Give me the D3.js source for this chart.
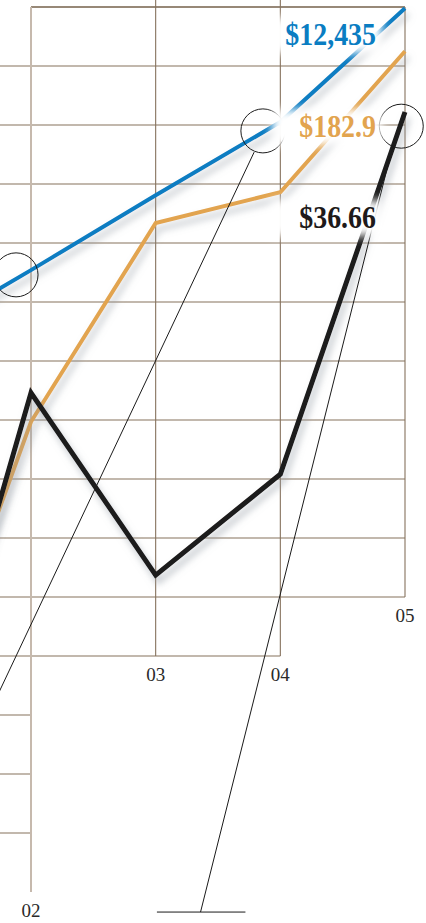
<!DOCTYPE html>
<html>
<head>
<meta charset="utf-8">
<script src="https://cdn.jsdelivr.net/npm/d3@7"></script>
<style>
  body { margin: 0; background: #fff; }
  svg { display: block; }
</style>
</head>
<body>
<svg id="chart" width="426" height="923"></svg>
<script>
// years on the x axis (01 falls off the left edge of the crop)
const years = [1, 2, 3, 4, 5];
const yearLabels = ["01", "02", "03", "04", "05"];

// indexed values, one per year
const blueValues = [9.3, 10.54, 11.81, 13.05, 14.98];
const orangeValues = [2.15, 7.97, 11.34, 11.86, 14.25];
const blackValues = [1.14, 8.46, 5.37, 7.08, 13.22];

// end-of-line labels
const seriesLabels = ["$12,435", "$182.9", "$36.66"];

// grid: lowest gridline each year column reaches (staircase floor)
const gridValues = d3.range(1, 16);
const floorByYear = [null, 0, 4, 4, 5];

// callout circles and leader lines, in data units
const callouts = [
  {year: 1.88, value: 10.46},
  {year: 3.86, value: 12.9},
  {year: 4.97, value: 12.98}
];
const leaders = [
  [{year: 3.79, value: 12.54}, {year: 1.27, value: 1.27}],
  [{year: 4.9, value: 12.63}, {year: 3.36, value: -0.34}],
  [{year: 3.01, value: -0.34}, {year: 3.72, value: -0.34}]
];

let svg = d3.select("#chart");

let x = d3.scaleLinear().domain([2, 5]).range([31, 405]);
let y = d3.scaleLinear().domain([0, 15]).range([892, 7]);

let defs = svg.append("defs");
defs.append("filter")
    .attr("id", "shadow")
    .attr("x", "-20%").attr("y", "-20%")
    .attr("width", "140%").attr("height", "140%")
  .append("feDropShadow")
    .attr("dx", 3).attr("dy", 6)
    .attr("stdDeviation", 3.5)
    .attr("flood-color", "#8f96a0")
    .attr("flood-opacity", 0.55);
defs.append("filter")
    .attr("id", "glow")
    .attr("x", "-50%").attr("y", "-50%")
    .attr("width", "200%").attr("height", "200%")
  .append("feGaussianBlur")
    .attr("stdDeviation", 5);

// horizontal gridlines: how far right each one reaches
function rightYear(v) {
  if (v >= 5) return 5;
  if (v >= 4) return 4;
  return 2;
}

let grid = svg.append("g");
grid.selectAll("line.h")
  .data(gridValues)
  .join("line")
    .attr("class", "h")
    .attr("x1", v => v === 15 ? x(2) : x(1))
    .attr("x2", v => x(rightYear(v)))
    .attr("y1", v => y(v))
    .attr("y2", v => y(v))
    .attr("stroke", v => v === 15 ? "#74604a" : "#86725d")
    .attr("stroke-width", v => v === 15 ? 1.6 : 1.1);

grid.selectAll("line.v")
  .data(years.slice(1))
  .join("line")
    .attr("class", "v")
    .attr("x1", d => x(d))
    .attr("x2", d => x(d))
    .attr("y1", d => (d === 3 || d === 4) ? y(15.15) : y(15))
    .attr("y2", d => y(floorByYear[d - 1]))
    .attr("stroke", d => d === 2 ? "#c6b9ad" : "#86725d")
    .attr("stroke-width", d => d === 2 ? 2 : 1.1);

// year tick labels under each column floor
svg.selectAll("text.tick")
  .data(years.slice(1))
  .join("text")
    .attr("class", "tick")
    .attr("x", d => x(d))
    .attr("y", d => y(floorByYear[d - 1]) + 25)
    .attr("text-anchor", "middle")
    .style("font-family", "'Liberation Serif', serif")
    .style("font-size", "19px")
    .style("fill", "#2a2a2a")
    .text(d => yearLabels[d - 1]);

// the three series
let series = [
  {values: blueValues, color: "#0a7dc2", width: 4},
  {values: orangeValues, color: "#e2a44f", width: 4},
  {values: blackValues, color: "#1e1a1a", width: 5}
];
let line = d3.line()
  .x((d, i) => x(years[i]))
  .y(d => y(d));

svg.append("g")
  .selectAll("path")
  .data(series)
  .join("path")
    .attr("d", d => line(d.values))
    .attr("fill", "none")
    .attr("stroke", d => d.color)
    .attr("stroke-width", d => d.width)
    .attr("stroke-linejoin", "miter")
    .attr("filter", "url(#shadow)");

// leader lines and callout circles
svg.append("g")
  .selectAll("line")
  .data(leaders)
  .join("line")
    .attr("x1", d => x(d[0].year))
    .attr("y1", d => y(d[0].value))
    .attr("x2", d => x(d[1].year))
    .attr("y2", d => y(d[1].value))
    .attr("stroke", "#1a1a1a")
    .attr("stroke-width", 1);

svg.append("g")
  .selectAll("circle")
  .data(callouts)
  .join("circle")
    .attr("cx", d => x(d.year))
    .attr("cy", d => y(d.value))
    .attr("r", 22)
    .attr("fill", "none")
    .attr("stroke", "#1a1a1a")
    .attr("stroke-width", 1);

// value labels with a soft white halo behind them
let labelOffsets = [37, 86, 116];
let labels = svg.append("g")
  .selectAll("g")
  .data(series)
  .join("g")
    .attr("transform", (d, i) => `translate(${x(5) - 29},${y(d.values[4]) + labelOffsets[i]})`);

labels.append("rect")
  .attr("x", -104)
  .attr("y", -28)
  .attr("width", 110)
  .attr("height", 36)
  .attr("fill", "#fff")
  .attr("filter", "url(#glow)");

labels.append("text")
  .attr("text-anchor", "end")
  .attr("transform", "scale(0.9,1)")
  .style("font-family", "'Liberation Serif', serif")
  .style("font-weight", "bold")
  .style("font-size", "31px")
  .style("fill", d => d.color)
  .text((d, i) => seriesLabels[i]);
</script>
</body>
</html>
